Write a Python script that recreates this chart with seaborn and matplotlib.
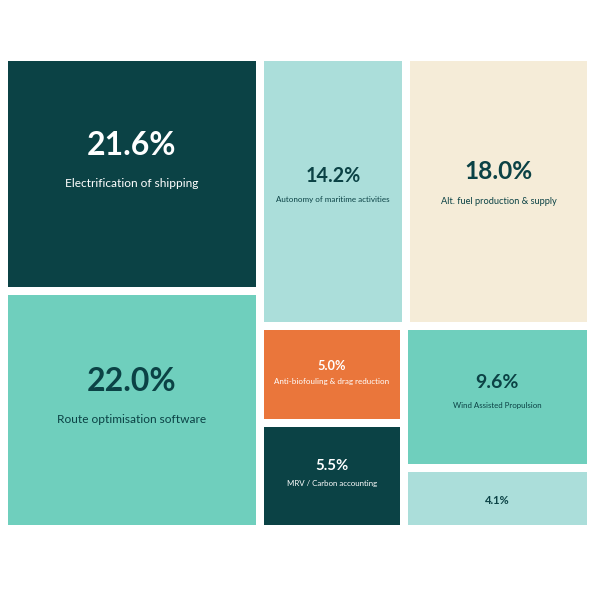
import matplotlib
matplotlib.use("Agg")
import matplotlib.pyplot as plt
from matplotlib.patches import Rectangle
import seaborn as sns

# treemap data (share of total, %)
labels = [
    "Electrification of shipping",
    "Route optimisation software",
    "Autonomy of maritime activities",
    "Alt. fuel production & supply",
    "Anti-biofouling & drag reduction",
    "MRV / Carbon accounting",
    "Wind Assisted Propulsion",
    "",
]
values = [21.6, 22.0, 14.2, 18.0, 5.0, 5.5, 9.6, 4.1]

# nesting of the tiles: "h" = side by side, "v" = stacked
tree = ("h", [("v", [0, 1]),
              ("v", [("h", [2, 3]),
                     ("h", [("v", [4, 5]), ("v", [6, 7])])])])

DARK = "#0b4245"
TEAL = "#6fcfbd"
PALE = "#abdeda"
CREAM = "#f5ecd8"
ORANGE = "#ea763b"
tile_colors = [DARK, TEAL, PALE, CREAM, ORANGE, DARK, TEAL, PALE]
text_colors = ["white", DARK, DARK, DARK, "white", "white", DARK, DARK]
num_sizes = [23, 23, 14.2, 17.6, 9.2, 10.7, 14, 8]
label_sizes = [8.6, 8.6, 5.8, 6.7, 5.8, 5.7, 5.7, 6]


def total(node):
    if isinstance(node, int):
        return values[node]
    return sum(total(c) for c in node[1])


def layout(node, x, y, w, h, out):
    if isinstance(node, int):
        out[node] = (x, y, w, h)
        return
    kind, kids = node
    s = total(node)
    pos = 0.0
    for c in kids:
        frac = total(c) / s
        if kind == "h":
            layout(c, x + pos * w, y, frac * w, h, out)
        else:
            layout(c, x, y + pos * h, w, frac * h, out)
        pos += frac


sns.set_theme(style="white")
plt.rcParams["font.family"] = ["Lato", "DejaVu Sans"]

fig = plt.figure(figsize=(5.99, 5.99), dpi=100)
ax = fig.add_axes([0, 0, 1, 1])
ax.set_xlim(0, 599)
ax.set_ylim(599, 0)
ax.axis("off")

rects = {}
layout(tree, 4, 57, 587, 472, rects)
gap = 4

for i in range(len(values)):
    x, y, w, h = rects[i]
    ax.add_patch(Rectangle((x + gap, y + gap), w - 2 * gap, h - 2 * gap,
                           facecolor=tile_colors[i], edgecolor="none"))
    cx = x + w / 2
    cy = y + h / 2
    fs = num_sizes[i]
    if labels[i]:
        ax.text(cx, cy - (fs - 4.5), f"{values[i]:.1f}%", ha="center", va="baseline",
                fontsize=fs, fontweight="bold", color=text_colors[i])
        ax.text(cx, cy + 0.3 * fs + 6.5, labels[i], ha="center", va="baseline",
                fontsize=label_sizes[i], color=text_colors[i])
    else:
        ax.text(cx, cy + 5, f"{values[i]:.1f}%", ha="center",
                va="baseline", fontsize=fs, fontweight="bold", color=text_colors[i])

fig.savefig("out.png", dpi=100)
